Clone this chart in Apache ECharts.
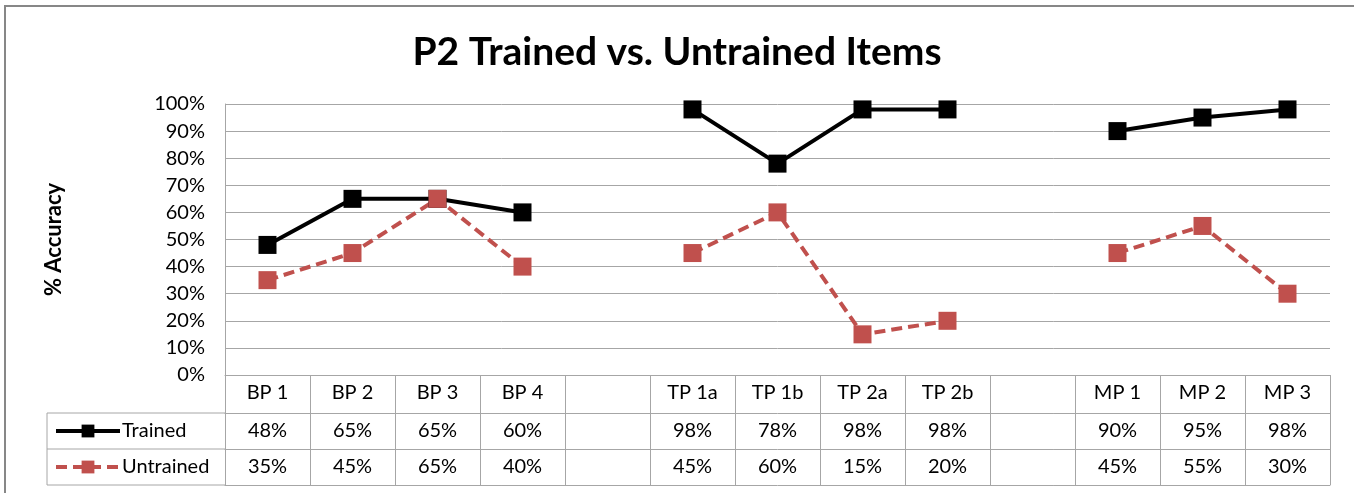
<!DOCTYPE html>
<html>
<head>
<meta charset="utf-8">
<script src="https://cdn.jsdelivr.net/npm/echarts@6/dist/echarts.min.js"></script>
<style>
  html, body { margin: 0; padding: 0; background: #fff; }
  #chart { width: 1354px; height: 493px; }
</style>
</head>
<body>
<div id="chart"></div>
<script>
const categories = ['BP 1', 'BP 2', 'BP 3', 'BP 4', '', 'TP 1a', 'TP 1b', 'TP 2a', 'TP 2b', '', 'MP 1', 'MP 2', 'MP 3']
const trained = [48, 65, 65, 60, null, 98, 78, 98, 98, null, 90, 95, 98]
const untrained = [35, 45, 65, 40, null, 45, 60, 15, 20, null, 45, 55, 30]
const yMin = 0
const yMax = 100
const yStep = 10

const font = 'Lato, "Open Sans", sans-serif'
const gridColor = '#a6a6a6'
const red = '#c0504d'

const pct = v => (v == null ? '' : v + '%')

// one category axis per table row, stacked under the plot
function tableAxis(data, offset, tickLen, showLabel) {
  return {
    type: 'category',
    data: data,
    position: 'bottom',
    offset: offset,
    boundaryGap: true,
    axisLine: { show: true, lineStyle: { color: gridColor, width: 1 } },
    axisTick: { show: tickLen > 0, interval: 0, length: tickLen, lineStyle: { color: gridColor, width: 1 } },
    axisLabel: {
      show: showLabel,
      interval: 0,
      verticalAlign: 'middle',
      margin: 18,
      color: '#000',
      fontFamily: font,
      fontSize: 20
    },
    splitLine: { show: false }
  }
}

const chart = echarts.init(document.getElementById('chart'), null, { renderer: 'canvas' })

chart.setOption({
  animation: false,
  backgroundColor: '#fff',
  title: {
    text: 'P2 Trained vs. Untrained Items',
    left: 'center',
    top: 28,
    textStyle: { fontFamily: font, fontSize: 39, fontWeight: 'bold', color: '#000' }
  },
  legend: {
    orient: 'vertical',
    left: 49,
    top: 416,
    padding: 5,
    itemWidth: 64,
    itemHeight: 16,
    itemGap: 16,
    textStyle: { fontFamily: font, fontSize: 20, color: '#000', padding: [0, 0, 0, -3] },
    lineStyle: { width: 4 },
    data: ['Trained', 'Untrained']
  },
  grid: { left: 225, right: 24, top: 104, bottom: 118, containLabel: false },
  xAxis: [
    tableAxis(categories, 0, 38, true),
    tableAxis(trained.map(pct), 38, 36, true),
    tableAxis(untrained.map(pct), 74, 36, true),
    tableAxis(categories, 110, 0, false)
  ],
  yAxis: {
    type: 'value',
    min: yMin,
    max: yMax,
    interval: yStep,
    name: '% Accuracy',
    nameLocation: 'middle',
    nameGap: 160,
    nameTextStyle: { fontFamily: font, fontSize: 22, fontWeight: 'bold', color: '#000' },
    axisLine: { show: true, lineStyle: { color: gridColor, width: 1 } },
    axisTick: { show: false },
    axisLabel: { formatter: '{value}%', margin: 20, color: '#000', fontFamily: font, fontSize: 20 },
    splitLine: { show: true, lineStyle: { color: gridColor, width: 1 } }
  },
  series: [
    {
      name: 'Trained',
      type: 'line',
      data: trained,
      symbol: 'rect',
      symbolSize: 18,
      itemStyle: { color: '#000' },
      lineStyle: { color: '#000', width: 4 }
    },
    {
      name: 'Untrained',
      type: 'line',
      data: untrained,
      symbol: 'rect',
      symbolSize: 18,
      itemStyle: { color: red },
      lineStyle: { color: red, width: 4, type: [11, 6] }
    }
  ],
  graphic: [
    {
      type: 'rect',
      shape: { x: 5, y: 6, width: 1400, height: 600 },
      style: { fill: 'none', stroke: '#878787', lineWidth: 2 },
      silent: true
    },
    {
      type: 'polyline',
      shape: { points: [[225, 413], [47, 413], [47, 485], [225, 485]] },
      style: { fill: 'none', stroke: gridColor, lineWidth: 1 },
      silent: true
    },
    {
      type: 'line',
      shape: { x1: 47, y1: 449, x2: 225, y2: 449 },
      style: { stroke: gridColor, lineWidth: 1 },
      silent: true
    }
  ]
})
</script>
</body>
</html>
